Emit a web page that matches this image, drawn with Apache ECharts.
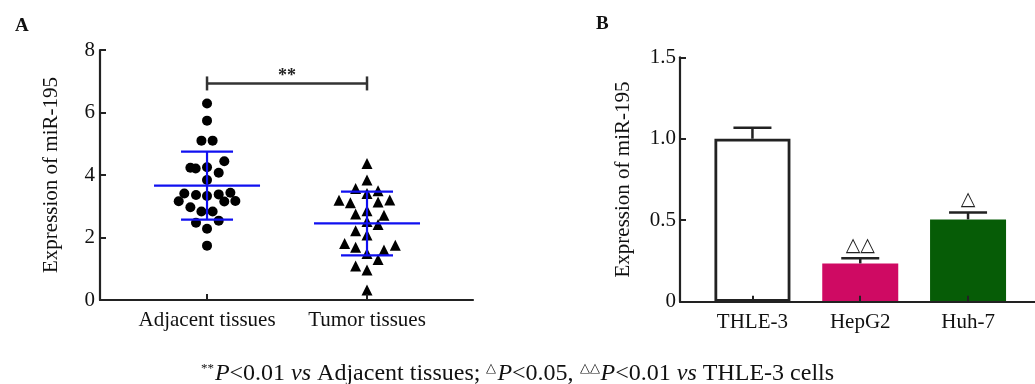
<!DOCTYPE html>
<html>
<head>
<meta charset="utf-8">
<script src="https://cdn.jsdelivr.net/npm/echarts@6/dist/echarts.min.js"></script>
<style>html,body{margin:0;padding:0;background:#fff;}#c{width:1035px;height:384px;}</style>
</head>
<body>
<div id="c"></div>
<script>
// ---------- Panel A data ----------
const catsA = ['Adjacent tissues', 'Tumor tissues'];
// [horizontal scatter offset within group, expression]
const adjacent = [
  [0, 6.29], [0, 5.74], [-0.035, 5.10], [0.035, 5.10], [0.108, 4.44],
  [-0.104, 4.23], [-0.071, 4.21], [0, 4.25], [0.073, 4.07], [0, 3.84],
  [-0.142, 3.41], [-0.069, 3.36], [0, 3.33], [0.073, 3.38], [0.146, 3.43],
  [-0.177, 3.16], [0.108, 3.15], [0.177, 3.17], [-0.104, 2.97], [-0.035, 2.83],
  [0.035, 2.83], [-0.069, 2.47], [0.073, 2.54], [0, 2.28], [0, 1.74]
];
const tumor = [
  [0, 4.37], [0, 3.84], [-0.071, 3.57], [0.069, 3.50], [0, 3.41],
  [-0.175, 3.19], [-0.104, 3.11], [0.069, 3.14], [0.142, 3.20], [0, 2.86],
  [-0.071, 2.75], [0.106, 2.71], [0, 2.51], [0.069, 2.42], [-0.071, 2.22],
  [0, 2.08], [-0.14, 1.81], [-0.071, 1.69], [0.106, 1.60], [0.177, 1.75],
  [0, 1.49], [0.069, 1.30], [-0.071, 1.09], [0, 0.96], [0, 0.32]
];
const groupMean = [3.66, 2.45];
const groupSD = [1.09, 1.02];
const bracketA = [0, 1, 6.93];
const bracketLabel = '**';

// ---------- Panel B data ----------
const catsB = ['THLE-3', 'HepG2', 'Huh-7'];
const expr = [1.0, 0.235, 0.505];
const exprErr = [0.067, 0.031, 0.043];
const sigMarks = ['', '\u25B3\u25B3', '\u25B3'];
const barColors = ['#ffffff', '#CF0A63', '#065C06'];

const footnote = '{sup|**}{i|P}<0.01 {i|vs} Adjacent tissues; {sup|\u25B3}{i|P}<0.05, {sup|\u25B3\u25B3}{i|P}<0.01 {i|vs} THLE-3 cells';

const FONT = "'Liberation Serif', 'Times New Roman', serif";
const AX = '#222';
const BLUE = '#1010F0';

const chart = echarts.init(document.getElementById('c'), null, {renderer: 'canvas'});

function meanSdRender(params, api) {
  const x = api.value(0), m = api.value(1), s = api.value(2);
  const pm = api.coord([x, m]);
  const pt = api.coord([x, m + s]);
  const pb = api.coord([x, m - s]);
  const st = {stroke: BLUE, lineWidth: 2.2};
  return {type: 'group', children: [
    {type: 'line', shape: {x1: pm[0] - 53, y1: pm[1], x2: pm[0] + 53, y2: pm[1]}, style: st},
    {type: 'line', shape: {x1: pt[0], y1: pt[1], x2: pb[0], y2: pb[1]}, style: st},
    {type: 'line', shape: {x1: pt[0] - 26, y1: pt[1], x2: pt[0] + 26, y2: pt[1]}, style: st},
    {type: 'line', shape: {x1: pb[0] - 26, y1: pb[1], x2: pb[0] + 26, y2: pb[1]}, style: st}
  ]};
}

function bracketRender(params, api) {
  const a = api.coord([api.value(0), api.value(2)]);
  const b = api.coord([api.value(1), api.value(2)]);
  const st = {stroke: '#333', lineWidth: 2.5};
  return {type: 'group', children: [
    {type: 'line', shape: {x1: a[0], y1: a[1], x2: b[0], y2: b[1]}, style: st},
    {type: 'line', shape: {x1: a[0], y1: a[1] - 7, x2: a[0], y2: a[1] + 7}, style: st},
    {type: 'line', shape: {x1: b[0], y1: b[1] - 7, x2: b[0], y2: b[1] + 7}, style: st},
    {type: 'text', style: {text: bracketLabel, x: (a[0] + b[0]) / 2, y: a[1] - 7,
      align: 'center', verticalAlign: 'middle', font: 'bold 18px ' + FONT, fill: '#222'}}
  ]};
}

function errRender(params, api) {
  const x = api.value(0), v = api.value(1), e = api.value(2);
  const p0 = api.coord([x, v]);
  const p1 = api.coord([x, v + e]);
  const st = {stroke: '#222', lineWidth: 2.5};
  const children = [
    {type: 'line', shape: {x1: p0[0], y1: p0[1], x2: p1[0], y2: p1[1]}, style: st},
    {type: 'line', shape: {x1: p1[0] - 19, y1: p1[1], x2: p1[0] + 19, y2: p1[1]}, style: st}
  ];
  const mark = sigMarks[params.dataIndex];
  if (mark) {
    children.push({type: 'text', style: {text: mark, x: p1[0], y: p1[1] - 12,
      align: 'center', verticalAlign: 'middle', font: "19px 'DejaVu Sans', sans-serif", fill: '#222'}});
  }
  return {type: 'group', children};
}

const axisLabelStyle = {color: '#111', fontFamily: FONT, fontSize: 21};

const option = {
  animation: false,
  backgroundColor: '#fff',
  title: [
    {text: 'A', left: 10, top: 12, textStyle: {fontFamily: FONT, fontWeight: 'bold', fontSize: 19, color: '#111'}},
    {text: 'B', left: 591, top: 10, textStyle: {fontFamily: FONT, fontWeight: 'bold', fontSize: 19, color: '#111'}},
    {text: footnote, left: 'center', top: 357,
      textStyle: {fontFamily: FONT, fontSize: 24, fontWeight: 'normal', color: '#111',
        rich: {
          sup: {fontFamily: FONT, fontSize: 13, fontWeight: 'normal', verticalAlign: 'top', color: '#111', padding: [0, 1, 0, 0]},
          i: {fontFamily: FONT, fontSize: 24, fontWeight: 'normal', fontStyle: 'italic', color: '#111'}
        }}}
  ],
  grid: [
    {left: 100, top: 50, width: 373, height: 250},
    {left: 680, top: 57.3, width: 360, height: 244.4}
  ],
  xAxis: [
    {type: 'value', gridIndex: 0, min: -0.669, max: 1.6625, z: 10,
      splitLine: {show: false},
      axisLine: {onZero: false, lineStyle: {color: AX, width: 2.2}},
      axisTick: {inside: true, length: 6, lineStyle: {color: AX, width: 2}, customValues: [0, 1]},
      axisLabel: Object.assign({customValues: [0, 1], margin: 10, formatter: v => catsA[Math.round(v)]}, axisLabelStyle)},
    {type: 'value', gridIndex: 1, min: -0.672, max: 2.621, z: 10,
      splitLine: {show: false},
      axisLine: {onZero: false, lineStyle: {color: AX, width: 2.2}},
      axisTick: {inside: true, length: 6, lineStyle: {color: AX, width: 2}, customValues: [0, 1, 2]},
      axisLabel: Object.assign({customValues: [0, 1, 2], margin: 10, formatter: v => catsB[Math.round(v)]}, axisLabelStyle)}
  ],
  yAxis: [
    {type: 'value', gridIndex: 0, min: 0, max: 8, interval: 2,
      name: 'Expression of miR-195', nameLocation: 'middle', nameGap: 38, nameRotate: 90,
      nameTextStyle: {fontFamily: FONT, fontSize: 21, color: '#111'},
      splitLine: {show: false},
      axisLine: {show: true, onZero: false, lineStyle: {color: AX, width: 2.2}},
      axisTick: {show: true, inside: true, length: 6, lineStyle: {color: AX, width: 2}},
      axisLabel: Object.assign({margin: 5}, axisLabelStyle)},
    {type: 'value', gridIndex: 1, min: 0, max: 1.5, interval: 0.5,
      name: 'Expression of miR-195', nameLocation: 'middle', nameGap: 46, nameRotate: 90,
      nameTextStyle: {fontFamily: FONT, fontSize: 21, color: '#111'},
      splitLine: {show: false},
      axisLine: {show: true, onZero: false, lineStyle: {color: AX, width: 2.2}},
      axisTick: {show: true, inside: true, length: 6, lineStyle: {color: AX, width: 2}},
      axisLabel: Object.assign({margin: 4, formatter: v => v === 0 ? '0' : v.toFixed(1)}, axisLabelStyle)}
  ],
  series: [
    {type: 'scatter', xAxisIndex: 0, yAxisIndex: 0, symbol: 'circle', symbolSize: 10,
      itemStyle: {color: '#000', opacity: 1}, z: 3,
      data: adjacent.map(d => [0 + d[0], d[1]])},
    {type: 'scatter', xAxisIndex: 0, yAxisIndex: 0, symbol: 'triangle', symbolSize: 11,
      itemStyle: {color: '#000', opacity: 1}, z: 3,
      data: tumor.map(d => [1 + d[0], d[1]])},
    {type: 'custom', xAxisIndex: 0, yAxisIndex: 0, z: 4, renderItem: meanSdRender,
      data: groupMean.map((m, i) => [i, m, groupSD[i]])},
    {type: 'custom', xAxisIndex: 0, yAxisIndex: 0, z: 4, renderItem: bracketRender,
      data: [bracketA]},
    {type: 'bar', xAxisIndex: 1, yAxisIndex: 1, barWidth: 76,
      data: expr.map((v, i) => ({value: [i, v], itemStyle: {color: barColors[i],
        borderColor: i === 0 ? '#222' : barColors[i], borderWidth: i === 0 ? 2.8 : 0}}))},
    {type: 'custom', xAxisIndex: 1, yAxisIndex: 1, z: 5, renderItem: errRender,
      data: expr.map((v, i) => [i, v, exprErr[i]])}
  ]
};
chart.setOption(option);
</script>
</body>
</html>
